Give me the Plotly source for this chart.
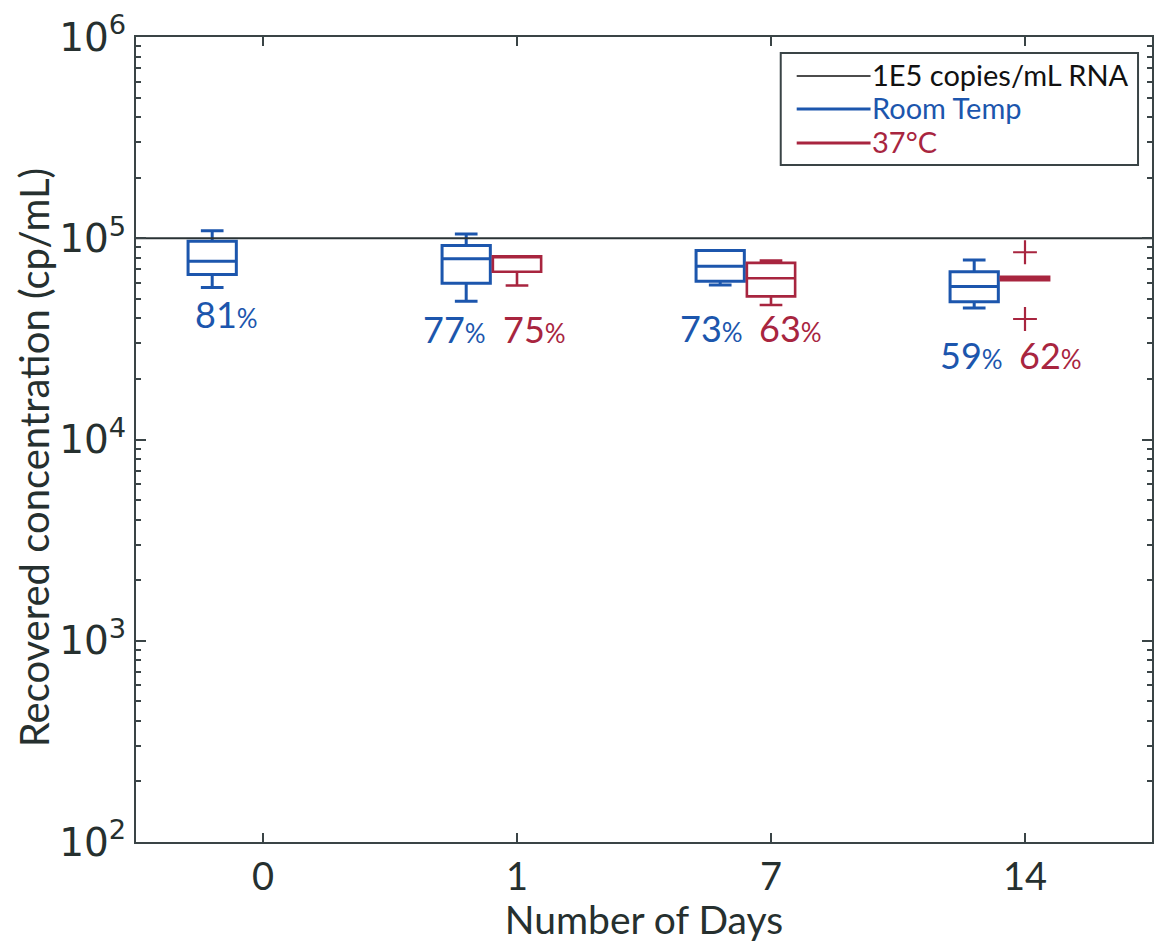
import numpy as np
import plotly.graph_objects as go

# ---------------- data ----------------
days = ["0", "1", "7", "14"]

# Room temperature boxes (one per day)
rt_q1 = [66000, 59700, 61100, 48400]
rt_median = [76800, 79000, 72600, 57500]
rt_q3 = [96600, 92000, 86900, 68200]
rt_low = [57000, 48600, 58600, 45050]
rt_high = [109000, 105000, 86900, 78070]
rt_pct = ["81", "77", "73", "59"]

# 37 C boxes (days 1, 7, 14)
c37_days = ["1", "7", "14"]
c37_q1 = [68200, 51450, 61800]
c37_median = [81400, 63250, 63000]
c37_q3 = [81400, 75450, 64300]
c37_low = [58200, 46630, 61800]
c37_high = [81400, 77400, 64300]
c37_pct = ["75", "63", "62"]

# outliers of 37 C, day 14
c37_out_day = ["14", "14"]
c37_out_val = [85200, 39700]

reference_level = 1e5

# label positions (value axis) for the recovery percentages
rt_label_val = [42200, 35540, 35950, 26390]
c37_label_val = [35540, 35950, 26390]
rt_label_dx = [0.055, -0.045, -0.035, -0.01]
c37_label_dx = [0.07, 0.075, 0.10]

# ---------------- styles ----------------
BLUE = "#1c56ad"
RED = "#a8253f"
AXIS = "#3a4446"
TXT = "#26302f"
FONT = "Lato"

pos = {d: i for i, d in enumerate(days)}
RT_SHIFT = -0.2
BOX_W = 0.19

fig = go.Figure()

fig.add_trace(go.Box(
    x=[pos[d] + RT_SHIFT for d in days],
    q1=rt_q1, median=rt_median, q3=rt_q3,
    lowerfence=rt_low, upperfence=rt_high,
    width=BOX_W, whiskerwidth=0.47,
    line=dict(color=BLUE, width=3),
    fillcolor="rgba(0,0,0,0)",
    name="Room Temp", showlegend=False, boxpoints=False,
))

fig.add_trace(go.Box(
    x=[pos[d] for d in c37_days],
    q1=c37_q1, median=c37_median, q3=c37_q3,
    lowerfence=c37_low, upperfence=c37_high,
    width=BOX_W, whiskerwidth=0.47,
    line=dict(color=RED, width=2.6),
    fillcolor="rgba(0,0,0,0)",
    name="37°C", showlegend=False, boxpoints=False,
))

fig.add_trace(go.Scatter(
    x=[pos[d] for d in c37_out_day], y=c37_out_val,
    mode="markers",
    marker=dict(symbol="cross-thin", size=17, line=dict(color=RED, width=2.2)),
    showlegend=False,
))

# reference line 1E5
fig.add_trace(go.Scatter(
    x=[-0.5, 3.5], y=[reference_level, reference_level],
    mode="lines", line=dict(color="#2a3335", width=2),
    showlegend=False,
))

# percentage labels
def pct_text(s):
    return f"{s}<span style='font-size:26px'>%</span>"

for d, v, p, dx in zip(days, rt_label_val, rt_pct, rt_label_dx):
    fig.add_annotation(x=pos[d] + RT_SHIFT + dx, y=np.log10(v), text=pct_text(p),
                       showarrow=False, font=dict(family=FONT, size=36, color=BLUE),
                       xanchor="center", yanchor="middle")
for d, v, p, dx in zip(c37_days, c37_label_val, c37_pct, c37_label_dx):
    fig.add_annotation(x=pos[d] + dx, y=np.log10(v), text=pct_text(p),
                       showarrow=False, font=dict(family=FONT, size=36, color=RED),
                       xanchor="center", yanchor="middle")

# ---------------- manual legend ----------------
L, R, T, B = 136, 1154, 37, 842
def px(xp):
    return (xp - L) / (R - L)
def py(yp):
    return (B - yp) / (B - T)

fig.add_shape(type="rect", xref="paper", yref="paper",
              x0=px(782), x1=px(1140), y0=py(165), y1=py(53),
              line=dict(color=AXIS, width=2), fillcolor="white", layer="above")
legend_items = [("1E5 copies/mL RNA", "#111", 1.5, 76),
                ("Room Temp", BLUE, 3, 109),
                ("37°C", RED, 3, 143)]
for name, col, w, yy in legend_items:
    fig.add_shape(type="line", xref="paper", yref="paper",
                  x0=px(798), x1=px(872), y0=py(yy), y1=py(yy),
                  line=dict(color=col, width=w), layer="above")
    fig.add_annotation(xref="paper", yref="paper", x=px(871), y=py(yy - 2),
                       text=name, showarrow=False, xanchor="left", yanchor="middle",
                       font=dict(family=FONT, size=29, color=col))

# y-axis title (placed as an annotation for exact position)
fig.add_annotation(xref="paper", yref="paper", x=px(34), y=py(457),
                   text="Recovered concentration (cp/mL)", textangle=-90,
                   showarrow=False, xanchor="center", yanchor="middle",
                   font=dict(family=FONT, size=40, color=TXT))

# ---------------- layout ----------------
fig.update_layout(
    width=1158, height=942,
    margin=dict(l=L, r=1158 - R, t=T, b=942 - B),
    paper_bgcolor="white", plot_bgcolor="white",
    boxmode="overlay", showlegend=False,
    xaxis=dict(
        range=[-0.5, 3.5], tickvals=list(range(len(days))), ticktext=days,
        ticks="inside", ticklen=9, tickwidth=1.5, tickcolor=AXIS,
        showline=True, linecolor=AXIS, linewidth=2, mirror="ticks",
        showgrid=False, zeroline=False,
        tickfont=dict(family=FONT, size=38, color=TXT),
        title=dict(text="Number of Days", font=dict(family=FONT, size=39, color=TXT), standoff=6),
    ),
    yaxis=dict(
        type="log", range=[2, 6],
        tickvals=[1e2, 1e3, 1e4, 1e5, 1e6],
        ticktext=["10<sup>2</sup>", "10<sup>3</sup>", "10<sup>4</sup>", "10<sup>5</sup>", "10<sup>6</sup>"],
        ticks="inside", ticklen=10, tickwidth=1.5, tickcolor=AXIS,
        minor=dict(ticks="inside", ticklen=5, tickwidth=1.5, tickcolor=AXIS, dtick="D1", showgrid=False),
        showline=True, linecolor=AXIS, linewidth=2, mirror="ticks",
        showgrid=False, zeroline=False,
        tickfont=dict(family="DejaVu Sans", size=39, color=TXT),
    ),
)

fig.write_html("out.html")
